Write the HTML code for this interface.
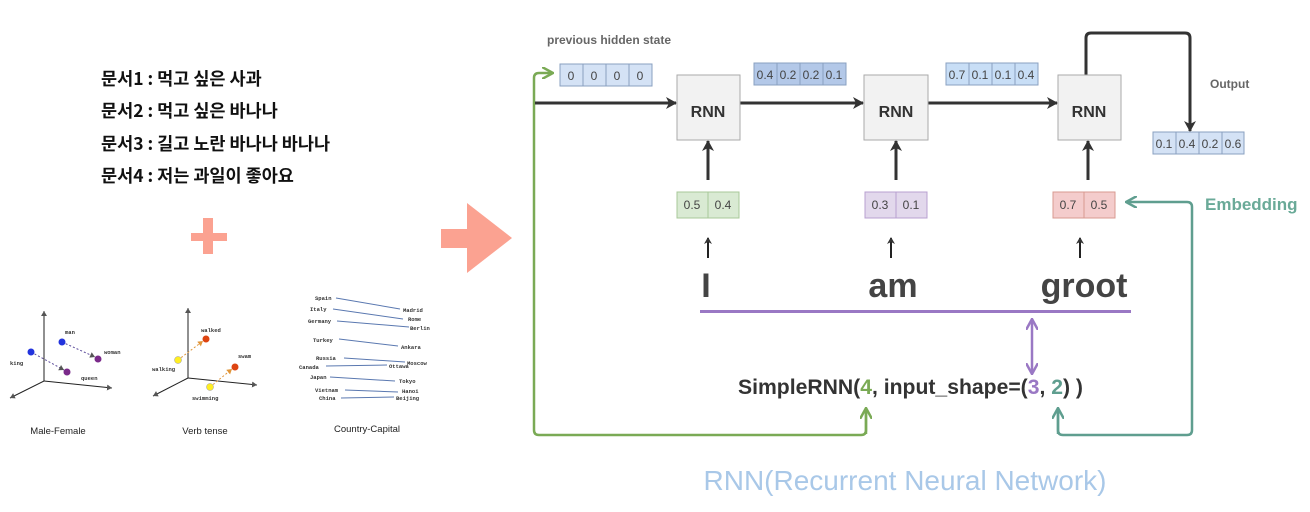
<!DOCTYPE html>
<html><head><meta charset="utf-8"><style>
html,body{margin:0;padding:0;background:#fff;}
svg{display:block;}
.kr{font-family:"Noto Sans CJK KR","Liberation Sans",sans-serif;font-weight:bold;font-size:17.5px;fill:#111;}
.m{font-family:"Liberation Mono",monospace;font-size:5.5px;fill:#333;font-weight:bold;}
.cap{font-family:"Liberation Sans",sans-serif;font-size:9.5px;fill:#222;}
.s{font-family:"Liberation Sans",sans-serif;}
.cell{font-family:"Liberation Sans",sans-serif;font-size:12px;fill:#444;}
</style></head><body>
<svg width="1310" height="512" viewBox="0 0 1310 512" xmlns="http://www.w3.org/2000/svg">
<defs>
<marker id="ab" markerWidth="8" markerHeight="8" refX="6" refY="4" orient="auto" markerUnits="userSpaceOnUse"><path d="M0,0 L7,4 L0,8 L2,4 Z" fill="#333"/></marker>
<marker id="abL" markerWidth="12" markerHeight="12" refX="10" refY="6" orient="auto" markerUnits="userSpaceOnUse"><path d="M0,0 L11,6 L0,12 L3,6 Z" fill="#333"/></marker>
<marker id="ag" markerWidth="12" markerHeight="12" refX="10" refY="6" orient="auto" markerUnits="userSpaceOnUse"><path d="M0,0 L11,6 L0,12" fill="none" stroke="#7aaa55" stroke-width="2.5"/></marker>
<marker id="at" markerWidth="12" markerHeight="12" refX="10" refY="6" orient="auto" markerUnits="userSpaceOnUse"><path d="M0,0 L11,6 L0,12" fill="none" stroke="#5f9e8f" stroke-width="2.5"/></marker>
<marker id="ap" markerWidth="12" markerHeight="12" refX="10" refY="6" orient="auto-start-reverse" markerUnits="userSpaceOnUse"><path d="M0,0 L11,6 L0,12" fill="none" stroke="#9a78c4" stroke-width="2.5"/></marker>
<marker id="ad" markerWidth="6" markerHeight="6" refX="5" refY="3" orient="auto" markerUnits="userSpaceOnUse"><path d="M0,0 L5,3 L0,6 Z" fill="#555"/></marker>
<marker id="ao" markerWidth="6" markerHeight="6" refX="5" refY="3" orient="auto" markerUnits="userSpaceOnUse"><path d="M0,0 L5,3 L0,6 Z" fill="#e0963a"/></marker>
</defs>

<text class="kr" x="101" y="85">문서1 : 먹고 싶은 사과</text>
<text class="kr" x="101" y="117">문서2 : 먹고 싶은 바나나</text>
<text class="kr" x="101" y="150">문서3 : 길고 노란 바나나 바나나</text>
<text class="kr" x="101" y="182">문서4 : 저는 과일이 좋아요</text>

<rect x="191" y="233" width="36" height="8" fill="#fba291"/>
<rect x="203" y="218" width="10" height="36" fill="#fba291"/>

<polygon points="441,229 467,229 467,203 512,238 467,273 467,248 441,248" fill="#fba291"/>

<g stroke="#222" stroke-width="1" fill="none">
<line x1="44" y1="381" x2="44" y2="311" marker-end="url(#ad)"/>
<line x1="44" y1="381" x2="112" y2="388" marker-end="url(#ad)"/>
<line x1="44" y1="381" x2="10" y2="398" marker-end="url(#ad)"/>
<line x1="188" y1="378" x2="188" y2="308" marker-end="url(#ad)"/>
<line x1="188" y1="378" x2="257" y2="385" marker-end="url(#ad)"/>
<line x1="188" y1="378" x2="153" y2="396" marker-end="url(#ad)"/>
</g>
<g stroke="#5a4a9a" stroke-width="1" stroke-dasharray="2,2">
<line x1="31" y1="352" x2="64" y2="370" marker-end="url(#ad)"/>
<line x1="62" y1="342" x2="95" y2="357" marker-end="url(#ad)"/>
</g>
<g stroke="#e0963a" stroke-width="1" stroke-dasharray="2,2">
<line x1="178" y1="360" x2="203" y2="341" marker-end="url(#ao)"/>
<line x1="210" y1="387" x2="232" y2="369" marker-end="url(#ao)"/>
</g>
<circle cx="31" cy="352" r="3.5" fill="#2233dd"/>
<circle cx="62" cy="342" r="3.5" fill="#2233dd"/>
<circle cx="98" cy="359" r="3.5" fill="#7a2a8a"/>
<circle cx="67" cy="372" r="3.5" fill="#7a2a8a"/>
<circle cx="178" cy="360" r="3.5" fill="#ffee22" stroke="#999" stroke-width="0.5"/>
<circle cx="210" cy="387" r="3.5" fill="#ffee22" stroke="#999" stroke-width="0.5"/>
<circle cx="206" cy="339" r="3.5" fill="#dd4411"/>
<circle cx="235" cy="367" r="3.5" fill="#dd4411"/>
<text class="m" x="10" y="365">king</text>
<text class="m" x="65" y="334">man</text>
<text class="m" x="104" y="354">woman</text>
<text class="m" x="81" y="380">queen</text>
<text class="m" x="152" y="371">walking</text>
<text class="m" x="201" y="332">walked</text>
<text class="m" x="238" y="358">swam</text>
<text class="m" x="192" y="400">swimming</text>
<text class="cap" x="58" y="434" text-anchor="middle">Male-Female</text>
<text class="cap" x="205" y="434" text-anchor="middle">Verb tense</text>
<text class="cap" x="367" y="432" text-anchor="middle">Country-Capital</text>

<g stroke="#5a78b0" stroke-width="1">
<line x1="336" y1="298" x2="400" y2="309"/>
<line x1="333" y1="309" x2="403" y2="319"/>
<line x1="337" y1="321" x2="409" y2="327"/>
<line x1="339" y1="339" x2="398" y2="346"/>
<line x1="344" y1="358" x2="405" y2="362"/>
<line x1="326" y1="366" x2="387" y2="365"/>
<line x1="330" y1="377" x2="395" y2="381"/>
<line x1="345" y1="390" x2="398" y2="392"/>
<line x1="341" y1="398" x2="394" y2="397"/>
</g>
<g>
<text class="m" x="315" y="300">Spain</text>
<text class="m" x="310" y="311">Italy</text>
<text class="m" x="308" y="323">Germany</text>
<text class="m" x="313" y="342">Turkey</text>
<text class="m" x="316" y="360">Russia</text>
<text class="m" x="299" y="369">Canada</text>
<text class="m" x="310" y="379">Japan</text>
<text class="m" x="315" y="392">Vietnam</text>
<text class="m" x="319" y="400">China</text>
<text class="m" x="403" y="312">Madrid</text>
<text class="m" x="408" y="321">Rome</text>
<text class="m" x="410" y="330">Berlin</text>
<text class="m" x="401" y="349">Ankara</text>
<text class="m" x="407" y="365">Moscow</text>
<text class="m" x="389" y="368">Ottawa</text>
<text class="m" x="399" y="383">Tokyo</text>
<text class="m" x="402" y="393">Hanoi</text>
<text class="m" x="396" y="400">Beijing</text>
</g>

<text class="s" x="547" y="44" font-size="12" font-weight="bold" fill="#666">previous hidden state</text>

<path d="M866,408 L866,430 Q866,435 861,435 L539,435 Q534,435 534,430 L534,78 Q534,73 539,73 L552,73" fill="none" stroke="#7aaa55" stroke-width="2.5" marker-end="url(#ag)"/>
<path d="M866,434 L866,409" fill="none" stroke="#7aaa55" stroke-width="2.5" marker-end="url(#ag)"/>

<path d="M1058,409 L1058,430 Q1058,435 1063,435 L1187,435 Q1192,435 1192,430 L1192,207 Q1192,202 1187,202 L1127,202" fill="none" stroke="#5f9e8f" stroke-width="2.5" marker-end="url(#at)"/>
<path d="M1058,434 L1058,409" fill="none" stroke="#5f9e8f" stroke-width="2.5" marker-end="url(#at)"/>
<text class="s" x="1205" y="210" font-size="17" font-weight="bold" fill="#6aaa98">Embedding</text>

<g stroke="#8aa0c0" stroke-width="1">
<rect x="560" y="64" width="92" height="22" fill="#d4e2f5"/>
<line x1="583" y1="64" x2="583" y2="86"/><line x1="606" y1="64" x2="606" y2="86"/><line x1="629" y1="64" x2="629" y2="86"/>
<rect x="754" y="63" width="92" height="22" fill="#b3c8e8"/>
<line x1="777" y1="63" x2="777" y2="85"/><line x1="800" y1="63" x2="800" y2="85"/><line x1="823" y1="63" x2="823" y2="85"/>
<rect x="946" y="63" width="92" height="22" fill="#c8def6"/>
<line x1="969" y1="63" x2="969" y2="85"/><line x1="992" y1="63" x2="992" y2="85"/><line x1="1015" y1="63" x2="1015" y2="85"/>
<rect x="1153" y="132" width="91" height="22" fill="#d4e2f5"/>
<line x1="1176" y1="132" x2="1176" y2="154"/><line x1="1199" y1="132" x2="1199" y2="154"/><line x1="1222" y1="132" x2="1222" y2="154"/>
</g>
<g class="cell" text-anchor="middle">
<text x="571" y="80">0</text><text x="594" y="80">0</text><text x="617" y="80">0</text><text x="640" y="80">0</text>
<text x="765" y="79">0.4</text><text x="788" y="79">0.2</text><text x="811" y="79">0.2</text><text x="834" y="79">0.1</text>
<text x="957" y="79">0.7</text><text x="980" y="79">0.1</text><text x="1003" y="79">0.1</text><text x="1026" y="79">0.4</text>
<text x="1164" y="148">0.1</text><text x="1187" y="148">0.4</text><text x="1210" y="148">0.2</text><text x="1233" y="148">0.6</text>
</g>

<g stroke="#333" stroke-width="3" fill="none">
<line x1="535" y1="103" x2="676" y2="103" marker-end="url(#abL)"/>
<line x1="740" y1="103" x2="863" y2="103" marker-end="url(#abL)"/>
<line x1="928" y1="103" x2="1057" y2="103" marker-end="url(#abL)"/>
<path d="M1086,75 L1086,38 Q1086,33 1091,33 L1185,33 Q1190,33 1190,38 L1190,131" marker-end="url(#abL)"/>
<line x1="708" y1="180" x2="708" y2="141" marker-end="url(#abL)"/>
<line x1="896" y1="180" x2="896" y2="141" marker-end="url(#abL)"/>
<line x1="1088" y1="180" x2="1088" y2="141" marker-end="url(#abL)"/>
</g>
<g stroke="#222" stroke-width="2" fill="none">
<line x1="708" y1="258" x2="708" y2="238" marker-end="url(#ab)"/>
<line x1="891" y1="258" x2="891" y2="238" marker-end="url(#ab)"/>
<line x1="1080" y1="258" x2="1080" y2="238" marker-end="url(#ab)"/>
</g>
<text class="s" x="1210" y="88" font-size="12" font-weight="bold" fill="#666">Output</text>

<g stroke="#aaa" stroke-width="1" fill="#f2f2f2">
<rect x="677" y="75" width="63" height="65"/>
<rect x="864" y="75" width="64" height="65"/>
<rect x="1058" y="75" width="63" height="65"/>
</g>
<g class="s" font-size="16" font-weight="bold" fill="#333" text-anchor="middle">
<text x="708" y="117">RNN</text><text x="896" y="117">RNN</text><text x="1089" y="117">RNN</text>
</g>

<rect x="677" y="192" width="62" height="26" fill="#d9ead3" stroke="#a8c898"/>
<line x1="708" y1="192" x2="708" y2="218" stroke="#a8c898"/>
<rect x="865" y="192" width="62" height="26" fill="#e2d8ec" stroke="#b8a0d0"/>
<line x1="896" y1="192" x2="896" y2="218" stroke="#b8a0d0"/>
<rect x="1053" y="192" width="62" height="26" fill="#f4cccc" stroke="#d89a90"/>
<line x1="1084" y1="192" x2="1084" y2="218" stroke="#d89a90"/>
<g class="cell" text-anchor="middle">
<text x="692" y="209">0.5</text><text x="723" y="209">0.4</text>
<text x="880" y="209">0.3</text><text x="911" y="209">0.1</text>
<text x="1068" y="209">0.7</text><text x="1099" y="209">0.5</text>
</g>

<g class="s" font-size="34" font-weight="bold" fill="#444" text-anchor="middle">
<text x="706" y="297">I</text><text x="893" y="297">am</text><text x="1084" y="297">groot</text>
</g>
<line x1="700" y1="311.5" x2="1131" y2="311.5" stroke="#9a78c4" stroke-width="3"/>
<line x1="1032" y1="320" x2="1032" y2="373" stroke="#9a78c4" stroke-width="2.5" marker-start="url(#ap)" marker-end="url(#ap)"/>

<text class="s" x="738" y="394" font-size="21" font-weight="bold" fill="#333" textLength="345" lengthAdjust="spacingAndGlyphs">SimpleRNN(<tspan fill="#7aaa55">4</tspan>, input_shape=(<tspan fill="#9a78c4">3</tspan>, <tspan fill="#5f9e8f">2</tspan>) )</text>

<text class="s" x="905" y="490" font-size="28" fill="#a9c8e8" text-anchor="middle">RNN(Recurrent Neural Network)</text>
</svg>
</body></html>
